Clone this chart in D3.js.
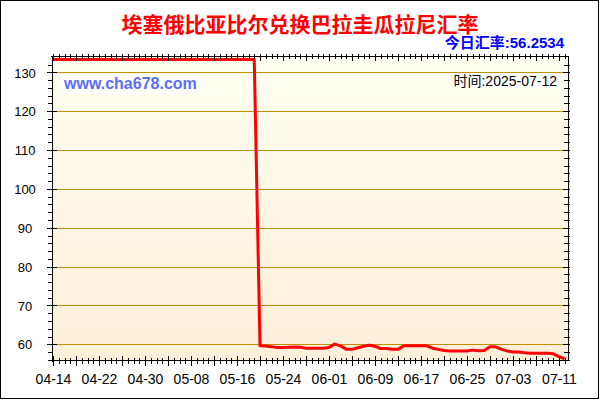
<!DOCTYPE html>
<html><head><meta charset="utf-8">
<script src="https://cdn.jsdelivr.net/npm/d3@7"></script>
<style>body{margin:0;background:#fff}svg{display:block}</style>
</head><body><svg id="c" width="600" height="400"></svg>
<script>
const titleText = "埃塞俄比亚比尔兑换巴拉圭瓜拉尼汇率";
const todayRateText = "今日汇率:56.2534";
const timeText = "时间:2025-07-12";
const watermarkText = "www.cha678.com";
const startDate = "2025-04-14";
const endDate = "2025-07-12";
const rates = [
  133.3,133.3,133.3,133.3,133.3,133.3,133.3,133.3,133.3,133.3,
  133.3,133.3,133.3,133.3,133.3,133.3,133.3,133.3,133.3,133.3,
  133.3,133.3,133.3,133.3,133.3,133.3,133.3,133.3,133.3,133.3,
  133.3,133.3,133.3,133.3,133.3,133.3,
  59.65,59.55,59.4,59.15,59.15,59.25,59.3,59.25,59.0,59.0,
  59.0,59.0,59.2,60.05,59.6,58.75,58.7,59.1,59.5,59.75,
  59.5,58.9,58.9,58.75,58.7,59.6,59.65,59.65,59.65,59.6,
  59.0,58.7,58.4,58.3,58.3,58.3,58.3,58.5,58.35,58.4,
  59.4,59.35,58.7,58.3,58.0,58.0,57.85,57.7,57.7,57.7,
  57.7,57.55,56.85,56.25
];
const xTickLabels = ["04-14","04-22","04-30","05-08","05-16","05-24","06-01","06-09","06-17","06-25","07-03","07-11"];
const yTicks = [60,70,80,90,100,110,120,130];

const svg = d3.select("#c");
const L = 52, R = 568, T = 56, B = 360;
const parse = d3.utcParse("%Y-%m-%d");
const d0 = parse(startDate), d1 = parse(endDate);
const dates = rates.map((v, i) => d3.utcDay.offset(d0, i));
const x = d3.scaleUtc().domain([d0, d1]).range([53, 564.75]);
const y = d3.scaleLinear().domain([55.96, 134.2]).range([B, T]);
const year = startDate.slice(0, 4);
const labelDates = xTickLabels.map(s => parse(year + "-" + s));

// frame
svg.append("rect").attr("x", 0.5).attr("y", 0.5).attr("width", 598).attr("height", 398)
  .attr("fill", "#fff").attr("stroke", "#000");

// gradient
const defs = svg.append("defs");
const g = defs.append("linearGradient").attr("id", "bg").attr("x1", 0).attr("y1", 0).attr("x2", 0).attr("y2", 1);
g.append("stop").attr("offset", "0%").attr("stop-color", "#fffff2");
g.append("stop").attr("offset", "100%").attr("stop-color", "#fcefd9");
svg.append("rect").attr("x", L).attr("y", T).attr("width", R - L).attr("height", B - T).attr("fill", "url(#bg)");

// grid
svg.append("g").selectAll("line").data(yTicks).join("line")
  .attr("x1", L).attr("x2", R).attr("y1", d => Math.round(y(d)) + 0.5).attr("y2", d => Math.round(y(d)) + 0.5)
  .attr("stroke", "#c09000").attr("stroke-width", 1.2);

// line
const line = d3.line().x((d, i) => x(dates[i])).y(d => y(d));
svg.append("path").datum(rates).attr("d", line).attr("fill", "none")
  .attr("stroke", "#ff0000").attr("stroke-width", 3).attr("stroke-linejoin", "round");

// watermark + time label
svg.append("rect").attr("x", 61).attr("y", 76).attr("width", 139).attr("height", 17).attr("fill", "#fff");
svg.append("text").attr("x", 64).attr("y", 89).text(watermarkText)
  .attr("font-family", "Liberation Sans, Arial, sans-serif").attr("font-weight", "bold")
  .attr("font-size", 16).attr("fill", "#5a6ef2");
svg.append("rect").attr("x", 452).attr("y", 73).attr("width", 106).attr("height", 15).attr("fill", "#fff");
svg.append("text").attr("x", 557).attr("y", 86).attr("text-anchor", "end").text(timeText)
  .attr("font-family", "Liberation Sans, Noto Sans CJK SC, sans-serif")
  .attr("font-size", 14).attr("fill", "#000");

// titles
svg.append("text").attr("x", 300).attr("y", 32).attr("text-anchor", "middle").text(titleText)
  .attr("font-family", "Noto Sans CJK SC, sans-serif").attr("font-weight", "bold")
  .attr("font-size", 21).attr("fill", "#ff0000");
svg.append("text").attr("x", 564).attr("y", 48).attr("text-anchor", "end").text(todayRateText)
  .attr("font-family", "Liberation Sans, Noto Sans CJK SC, sans-serif").attr("font-weight", "bold")
  .attr("font-size", 15).attr("fill", "#0000ff");

// axes
const ax = svg.append("g").attr("stroke", "#000").attr("stroke-width", 1);
const allDays = d3.utcDay.range(d0, d3.utcDay.offset(d1, 1));
const majorDays = allDays.filter((d, i) => i % 4 === 0);
const minorY = d3.range(56, 134, 2);
const px = v => Math.round(v) + 0.5;

// left axis
ax.append("line").attr("x1", px(L)).attr("x2", px(L)).attr("y1", T).attr("y2", B + 2);
ax.selectAll(".ly").data(minorY).join("line")
  .attr("x1", L - 4).attr("x2", L + 1).attr("y1", d => px(y(d))).attr("y2", d => px(y(d)));
ax.selectAll(".lY").data(yTicks).join("line")
  .attr("x1", L - 5).attr("x2", L + 5).attr("y1", d => px(y(d))).attr("y2", d => px(y(d)));
// right axis
ax.append("line").attr("x1", px(R)).attr("x2", px(R)).attr("y1", T).attr("y2", B + 1);
ax.selectAll(".ry").data(minorY).join("line")
  .attr("x1", R - 4).attr("x2", R + 2).attr("y1", d => px(y(d))).attr("y2", d => px(y(d)));
ax.selectAll(".rY").data(yTicks).join("line")
  .attr("x1", R - 5).attr("x2", R + 2).attr("y1", d => px(y(d))).attr("y2", d => px(y(d)));
// top axis
ax.append("line").attr("x1", L - 1).attr("x2", R + 1).attr("y1", px(T)).attr("y2", px(T));
ax.selectAll(".tx").data(allDays).join("line")
  .attr("x1", d => px(x(d))).attr("x2", d => px(x(d))).attr("y1", T - 2).attr("y2", T + 3);
ax.selectAll(".tX").data(majorDays).join("line")
  .attr("x1", d => px(x(d))).attr("x2", d => px(x(d))).attr("y1", T - 2).attr("y2", T + 5);
// bottom axis
ax.append("line").attr("x1", L - 2).attr("x2", R + 1).attr("y1", px(B)).attr("y2", px(B));
ax.selectAll(".bx").data(allDays).join("line")
  .attr("x1", d => px(x(d))).attr("x2", d => px(x(d))).attr("y1", B - 2).attr("y2", B + 4);
ax.selectAll(".bX").data(majorDays).join("line")
  .attr("x1", d => px(x(d))).attr("x2", d => px(x(d))).attr("y1", B - 4).attr("y2", B + 6);

// labels via d3 axes
const xAxis = d3.axisBottom(x).tickValues(labelDates).tickSize(0).tickPadding(0)
  .tickFormat(d3.utcFormat("%m-%d"));
const gx = svg.append("g").attr("transform", `translate(0,${B})`).call(xAxis);
gx.select(".domain").remove();
gx.selectAll("text").attr("y", 24).attr("dy", 0).attr("fill", "#000")
  .attr("font-family", "Liberation Sans, Arial, sans-serif").attr("font-size", 14);

const yAxis = d3.axisLeft(y).tickValues(yTicks).tickSize(0).tickPadding(0);
const gy = svg.append("g").attr("transform", "translate(25,0)").call(yAxis);
gy.select(".domain").remove();
gy.selectAll("text").attr("x", 0).attr("text-anchor", "middle").attr("dy", "0.36em").attr("fill", "#000")
  .attr("font-family", "Liberation Sans, Arial, sans-serif").attr("font-size", 13);
</script></body></html>
